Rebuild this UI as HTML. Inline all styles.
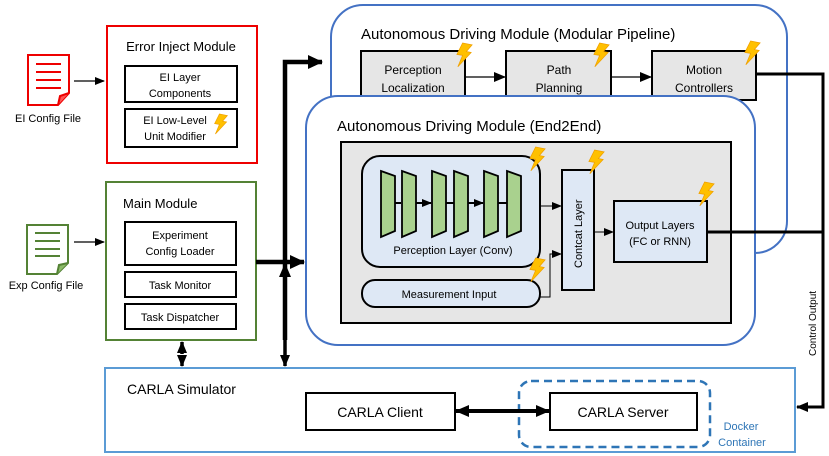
<!DOCTYPE html>
<html><head><meta charset="utf-8"><style>
html,body{margin:0;padding:0;background:#fff;}
svg{display:block;font-family:"Liberation Sans",sans-serif;}
</style></head><body>
<svg width="829" height="456" viewBox="0 0 829 456" xmlns="http://www.w3.org/2000/svg">
<defs>
<marker id="a" markerWidth="10" markerHeight="10" refX="9" refY="5" orient="auto" markerUnits="userSpaceOnUse"><path d="M0,1 L10,5 L0,9 Z" fill="#000"/></marker>
<marker id="ab" markerWidth="16" markerHeight="16" refX="14" refY="8" orient="auto" markerUnits="userSpaceOnUse"><path d="M0,1 L15,8 L0,15 Z" fill="#000"/></marker>
<marker id="am" markerWidth="12" markerHeight="12" refX="11" refY="6" orient="auto" markerUnits="userSpaceOnUse"><path d="M0,1 L12,6 L0,11 Z" fill="#000"/></marker>
<marker id="al" markerWidth="14" markerHeight="14" refX="13" refY="7" orient="auto" markerUnits="userSpaceOnUse"><path d="M0,1 L14,7 L0,13 Z" fill="#000"/></marker>
<g id="bolt"><path d="M8,0 L18,2 L12,9 L17,10 L3,25 L8,13 L2,12 Z" fill="#ffc000" stroke="#f0a000" stroke-width="0.8"/></g>
</defs>

<!-- file icons -->
<g fill="#fff" stroke="#e00" stroke-width="2">
<path d="M28,55 L69,55 L69,93 L58,105 L28,105 Z"/>
<path d="M58,105 L60,96 L69,93" fill="#f55"/>
</g>
<g stroke="#e00" stroke-width="2"><line x1="36" y1="64" x2="61" y2="64"/><line x1="36" y1="72" x2="61" y2="72"/><line x1="36" y1="80" x2="61" y2="80"/><line x1="36" y1="88" x2="61" y2="88"/></g>
<text x="48" y="122" font-size="11" text-anchor="middle">EI Config File</text>
<g fill="#fff" stroke="#548235" stroke-width="2">
<path d="M27,225 L68,225 L68,263 L57,274 L27,274 Z"/>
<path d="M57,274 L59,265 L68,263" fill="#8dbb6a"/>
</g>
<g stroke="#548235" stroke-width="2"><line x1="35" y1="233" x2="60" y2="233"/><line x1="35" y1="241" x2="60" y2="241"/><line x1="35" y1="249" x2="60" y2="249"/><line x1="35" y1="256" x2="60" y2="256"/></g>
<text x="46" y="289" font-size="11" text-anchor="middle">Exp Config File</text>
<line x1="74" y1="81" x2="104" y2="81" stroke="#000" stroke-width="1.3" marker-end="url(#a)"/>
<line x1="74" y1="242" x2="104" y2="242" stroke="#000" stroke-width="1.3" marker-end="url(#a)"/>

<!-- Error inject -->
<rect x="107" y="26" width="150" height="137" fill="#fff" stroke="#e00" stroke-width="2"/>
<text x="181" y="51" font-size="13" text-anchor="middle">Error Inject Module</text>
<rect x="125" y="66" width="112" height="36" fill="#fff" stroke="#000" stroke-width="2"/>
<text x="180" y="81" font-size="11" text-anchor="middle">EI Layer</text>
<text x="180" y="97" font-size="11" text-anchor="middle">Components</text>
<rect x="125" y="109" width="112" height="38" fill="#fff" stroke="#000" stroke-width="2"/>
<text x="175" y="124" font-size="11" text-anchor="middle">EI Low-Level</text>
<text x="175" y="140" font-size="11" text-anchor="middle">Unit Modifier</text>
<use href="#bolt" transform="translate(213,114) scale(0.8)"/>

<!-- Main -->
<rect x="106" y="182" width="150" height="158" fill="#fff" stroke="#548235" stroke-width="2"/>
<text x="123" y="208" font-size="13">Main Module</text>
<rect x="125" y="222" width="111" height="43" fill="#fff" stroke="#000" stroke-width="2"/>
<text x="180" y="239" font-size="11" text-anchor="middle">Experiment</text>
<text x="180" y="255" font-size="11" text-anchor="middle">Config Loader</text>
<rect x="125" y="272" width="111" height="25" fill="#fff" stroke="#000" stroke-width="2"/>
<text x="180" y="289" font-size="11" text-anchor="middle">Task Monitor</text>
<rect x="125" y="304" width="111" height="25" fill="#fff" stroke="#000" stroke-width="2"/>
<text x="180" y="321" font-size="11" text-anchor="middle">Task Dispatcher</text>

<!-- Modular pipeline -->
<rect x="331" y="5" width="456" height="248" rx="32" fill="#fff" stroke="#4472c4" stroke-width="2"/>
<text x="361" y="39" font-size="15">Autonomous Driving Module (Modular Pipeline)</text>
<g fill="#e6e6e6" stroke="#000" stroke-width="2">
<rect x="361" y="51" width="104" height="55"/>
<rect x="506" y="51" width="105" height="55"/>
<rect x="652" y="51" width="104" height="49"/>
</g>
<text x="413" y="74" font-size="12" text-anchor="middle">Perception</text>
<text x="413" y="92" font-size="12" text-anchor="middle">Localization</text>
<text x="559" y="74" font-size="12" text-anchor="middle">Path</text>
<text x="559" y="92" font-size="12" text-anchor="middle">Planning</text>
<text x="704" y="74" font-size="12" text-anchor="middle">Motion</text>
<text x="704" y="92" font-size="12" text-anchor="middle">Controllers</text>
<line x1="465" y1="77" x2="505" y2="77" stroke="#000" stroke-width="1.3" marker-end="url(#am)"/>
<line x1="611" y1="77" x2="651" y2="77" stroke="#000" stroke-width="1.3" marker-end="url(#am)"/>
<use href="#bolt" transform="translate(455,43) scale(0.95)"/>
<use href="#bolt" transform="translate(592,43) scale(0.95)"/>
<use href="#bolt" transform="translate(743,41) scale(0.95)"/>
<path d="M756,74 L823,74 L823,407 L797,407" fill="none" stroke="#000" stroke-width="3" marker-end="url(#am)"/>
<text transform="translate(816,356) rotate(-90)" font-size="10">Control Output</text>

<!-- End2End -->
<rect x="306" y="96" width="449" height="249" rx="32" fill="#fff" stroke="#4472c4" stroke-width="2"/>
<text x="337" y="131" font-size="15">Autonomous Driving Module (End2End)</text>
<rect x="341" y="142" width="390" height="181" fill="#e6e6e6" stroke="#000" stroke-width="2"/>
<rect x="362" y="156" width="178" height="111" rx="18" fill="#dee8f5" stroke="#000" stroke-width="2"/>
<line x1="395" y1="203" x2="401" y2="203" stroke="#000" stroke-width="2"/>
<line x1="416" y1="203" x2="431" y2="203" stroke="#000" stroke-width="2" marker-end="url(#a)"/>
<line x1="446" y1="203" x2="454" y2="203" stroke="#000" stroke-width="2"/>
<line x1="468" y1="203" x2="483" y2="203" stroke="#000" stroke-width="2" marker-end="url(#a)"/>
<line x1="498" y1="203" x2="507" y2="203" stroke="#000" stroke-width="2"/>
<g fill="#a9d18e" stroke="#000" stroke-width="1.8">
<path d="M381,171 L395,176 L395,231 L381,237 Z"/>
<path d="M402,171 L416,176 L416,231 L402,237 Z"/>
<path d="M432,171 L446,176 L446,231 L432,237 Z"/>
<path d="M454,171 L468,176 L468,231 L454,237 Z"/>
<path d="M484,171 L498,176 L498,231 L484,237 Z"/>
<path d="M507,171 L521,176 L521,231 L507,237 Z"/>
</g>
<text x="453" y="254" font-size="11" text-anchor="middle">Perception Layer (Conv)</text>
<rect x="362" y="280" width="178" height="27" rx="13" fill="#dee8f5" stroke="#000" stroke-width="2"/>
<text x="449" y="298" font-size="11" text-anchor="middle">Measurement Input</text>
<rect x="562" y="170" width="32" height="120" fill="#dee8f5" stroke="#000" stroke-width="2"/>
<text transform="translate(582,268) rotate(-90)" font-size="11">Contcat Layer</text>
<rect x="614" y="201" width="93" height="61" fill="#dee8f5" stroke="#000" stroke-width="2"/>
<text x="660" y="229" font-size="11" text-anchor="middle">Output Layers</text>
<text x="660" y="245" font-size="11" text-anchor="middle">(FC or RNN)</text>
<line x1="540" y1="206" x2="561" y2="206" stroke="#000" stroke-width="1" marker-end="url(#a)"/>
<path d="M540,297 L550,297 L550,254 L561,254" fill="none" stroke="#000" stroke-width="1" marker-end="url(#a)"/>
<line x1="594" y1="232" x2="613" y2="232" stroke="#000" stroke-width="1" marker-end="url(#a)"/>
<line x1="707" y1="232" x2="823" y2="232" stroke="#000" stroke-width="3"/>
<use href="#bolt" transform="translate(528,147) scale(0.95)"/>
<use href="#bolt" transform="translate(587,150) scale(0.95)"/>
<use href="#bolt" transform="translate(697,182) scale(0.95)"/>
<use href="#bolt" transform="translate(528,258) scale(0.95)"/>

<!-- thick connectors -->
<path d="M285,340 L285,62 L322,62" fill="none" stroke="#000" stroke-width="4.5" marker-end="url(#ab)"/>
<line x1="256" y1="262" x2="304" y2="262" stroke="#000" stroke-width="4.5" marker-end="url(#ab)"/>
<line x1="285" y1="290" x2="285" y2="264" stroke="#000" stroke-width="4" marker-end="url(#al)"/>
<line x1="285" y1="340" x2="285" y2="366" stroke="#000" stroke-width="3.5" marker-end="url(#am)"/>
<line x1="182" y1="355" x2="182" y2="366" stroke="#000" stroke-width="3.5" marker-end="url(#am)"/>
<line x1="182" y1="354" x2="182" y2="342" stroke="#000" stroke-width="3.5" marker-end="url(#am)"/>

<!-- CARLA -->
<rect x="105" y="368" width="690" height="84" fill="#fff" stroke="#5b9bd5" stroke-width="2"/>
<text x="127" y="394" font-size="14">CARLA Simulator</text>
<rect x="519" y="381" width="191" height="66" rx="12" fill="none" stroke="#2e75b6" stroke-width="2.5" stroke-dasharray="8,5"/>
<rect x="306" y="393" width="149" height="37" fill="#fff" stroke="#000" stroke-width="2"/>
<text x="380" y="417" font-size="14" text-anchor="middle">CARLA Client</text>
<rect x="550" y="393" width="147" height="37" fill="#fff" stroke="#000" stroke-width="2"/>
<text x="623" y="417" font-size="14" text-anchor="middle">CARLA Server</text>
<line x1="500" y1="411" x2="549" y2="411" stroke="#000" stroke-width="4" marker-end="url(#al)"/>
<line x1="505" y1="411" x2="456" y2="411" stroke="#000" stroke-width="4" marker-end="url(#al)"/>
<text x="741" y="430" font-size="11" fill="#2e75b6" text-anchor="middle">Docker</text>
<text x="742" y="446" font-size="11" fill="#2e75b6" text-anchor="middle">Container</text>
</svg>
</body></html>
